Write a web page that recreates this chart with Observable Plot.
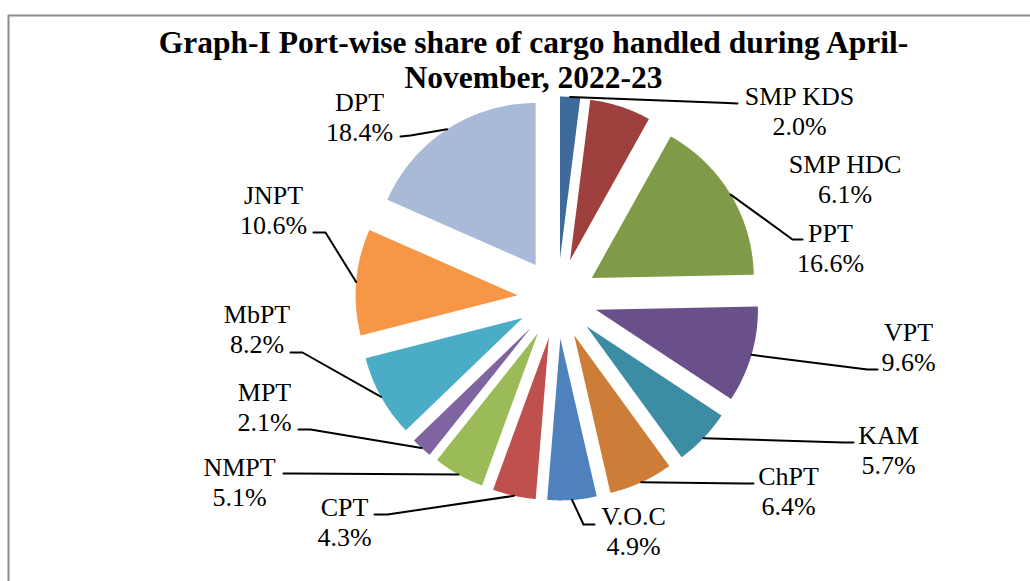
<!DOCTYPE html>
<html>
<head>
<meta charset="utf-8">
<script src="https://cdn.jsdelivr.net/npm/d3@7"></script>
<script src="https://cdn.jsdelivr.net/npm/@observablehq/plot@0.6"></script>
<style>
  html, body { margin: 0; padding: 0; background: #ffffff; overflow: hidden; }
  #chart svg { display: block; }
</style>
</head>
<body>
<div id="chart"></div>
<script>
// ---- Data ----
const ports  = ["SMP KDS", "SMP HDC", "PPT", "VPT", "KAM", "ChPT", "V.O.C", "CPT", "NMPT", "MPT", "MbPT", "JNPT", "DPT"];
const shares = [2.0, 6.1, 16.6, 9.6, 5.7, 6.4, 4.9, 4.3, 5.1, 2.1, 8.2, 10.6, 18.4];
const sliceColors = ["#3F6A9C", "#9E413E", "#7F9B48", "#69508A", "#3C8DA3", "#CD7D38",
                     "#4F81BD", "#C0504D", "#9BBB59", "#8064A2", "#4BACC6", "#F79646", "#A9B9D8"];
const titleText = "Graph-I Port-wise share of cargo handled during April-\nNovember, 2022-23";

// ---- Layout (pixels) ----
const W = 1030, H = 581;
const pie = { cx: 557, cy: 298, r: 162, explode: 40 };
// label block centre and leader elbow / end points (null = no leader)
const labelLayout = [
  { x: 799,   y: 110,   elbow: [727, 102.5], end: [737, 103] },
  { x: 844.5, y: 177.5, elbow: null,         end: null },
  { x: 830,   y: 246.5, elbow: [792, 239],   end: [802, 239] },
  { x: 908,   y: 346,   elbow: [867, 369],   end: [877, 369] },
  { x: 888,   y: 448.5, elbow: [843, 442],   end: [853, 442] },
  { x: 788,   y: 489.5, elbow: [743, 483],   end: [753, 483] },
  { x: 633,   y: 530,   elbow: [583, 524],   end: [594, 524] },
  { x: 344,   y: 521,   elbow: [387, 514],   end: [374, 514] },
  { x: 239,   y: 481,   elbow: [293, 473],   end: [283, 473] },
  { x: 264,   y: 406,   elbow: [310, 429],   end: [298, 429] },
  { x: 256.5, y: 328,   elbow: [302, 352],   end: [290, 352] },
  { x: 273,   y: 209,   elbow: [325, 232],   end: [313, 232] },
  { x: 359,   y: 116,   elbow: [410, 135],   end: [400, 136] }
];

// ---- Geometry from the values ----
const arcs = d3.pie().sort(null).value(d => d)(shares);
const slicePts = [];
const leaderPts = [];
arcs.forEach((a, i) => {
  const mid = (a.startAngle + a.endAngle) / 2;
  const ax = pie.cx + pie.explode * Math.sin(mid);
  const ay = pie.cy - pie.explode * Math.cos(mid);
  const name = ports[i];
  slicePts.push({ name, x: ax, y: ay });
  const n = Math.max(4, Math.ceil((a.endAngle - a.startAngle) / 0.01));
  for (let k = 0; k <= n; k++) {
    const t = a.startAngle + (a.endAngle - a.startAngle) * k / n;
    slicePts.push({ name, x: ax + pie.r * Math.sin(t), y: ay - pie.r * Math.cos(t) });
  }
  const L = labelLayout[i];
  if (L.elbow) {
    leaderPts.push({ name, x: ax + pie.r * Math.sin(mid), y: ay - pie.r * Math.cos(mid) });
    leaderPts.push({ name, x: L.elbow[0], y: L.elbow[1] });
    leaderPts.push({ name, x: L.end[0], y: L.end[1] });
  }
});
const labels = ports.map((p, i) => ({
  name: p, text: p + "\n" + shares[i].toFixed(1) + "%", x: labelLayout[i].x, y: labelLayout[i].y
}));

const serif = "'Liberation Serif', 'Times New Roman', serif";

const chart = Plot.plot({
  width: W,
  height: H,
  margin: 0,
  x: { domain: [0, W], range: [0, W], axis: null },
  y: { domain: [0, H], range: [0, H], axis: null },
  color: { domain: ports, range: sliceColors },
  style: { background: "#ffffff", fontFamily: serif },
  marks: [
    Plot.ruleY([15], { x1: 8, x2: W, stroke: "#8c8c8c", strokeWidth: 2 }),
    Plot.ruleX([8], { y1: 15, y2: H, stroke: "#8c8c8c", strokeWidth: 2 }),
    Plot.line(slicePts, { x: "x", y: "y", z: "name", fill: "name", stroke: null, curve: "linear-closed" }),
    Plot.line(leaderPts, { x: "x", y: "y", z: "name", stroke: "#000000", strokeWidth: 2, curve: "linear" }),
    Plot.text(labels, { x: "x", y: "y", text: "text", fontFamily: serif, fontSize: 26,
                        lineHeight: 30 / 26, textAnchor: "middle", fill: "#000000" }),
    Plot.text([titleText], { x: () => 533, y: () => 58.5, text: d => d, fontFamily: serif, fontSize: 31.5,
                             fontWeight: "bold", lineHeight: 35 / 31.5, textAnchor: "middle", fill: "#000000" })
  ]
});
document.getElementById("chart").appendChild(chart);
</script>
</body>
</html>
